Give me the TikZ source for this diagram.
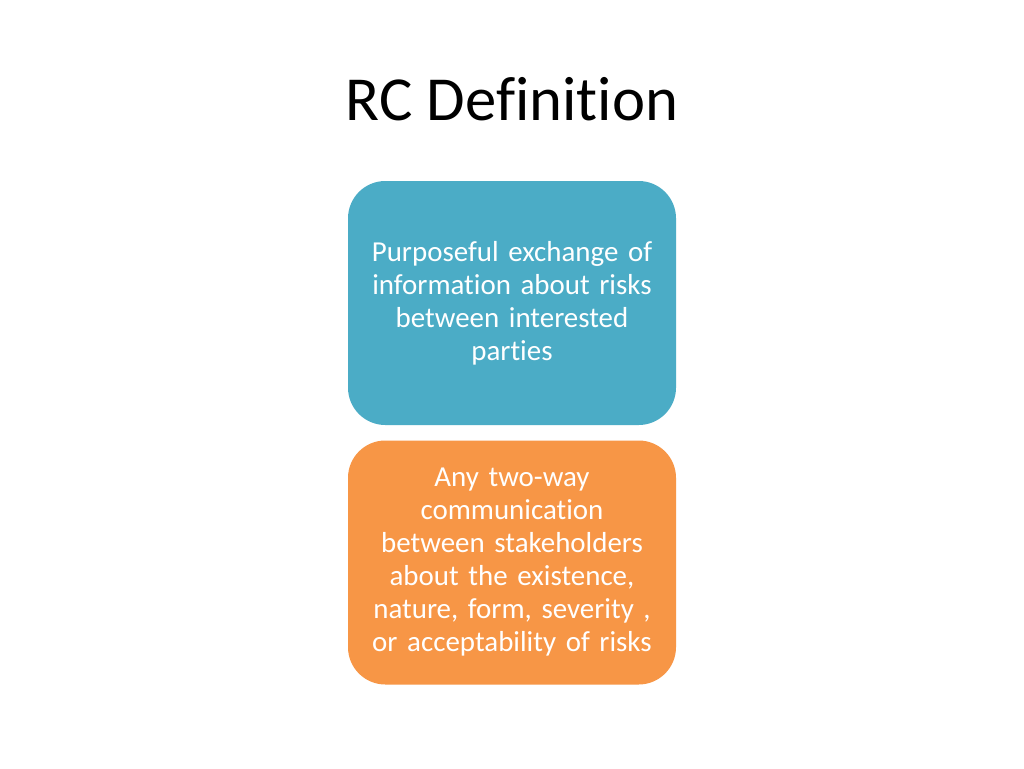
\documentclass[tikz,border=0pt]{standalone}
\usepackage{fontspec}
\setmainfont[Ligatures=NoCommon]{Carlito}
\definecolor{boxblue}{HTML}{4BACC6}
\definecolor{boxorange}{HTML}{F79646}
\begin{document}
\begin{tikzpicture}[x=0.75pt,y=-0.75pt,
  defbox/.style={rounded corners=28pt, minimum width=246pt, minimum height=183pt,
    text width=240pt, align=center, text=white, inner sep=0pt,
    font=\fontsize{21.7}{24.75}\selectfont}]
\fill[white] (0,0) rectangle (1024,768);
\useasboundingbox (0,0) rectangle (1024,768);
\node (title) at (512,99) {\fontsize{47}{56}\selectfont RC Definition};
\node[defbox, fill=boxblue] (blue) at (512,303)
  {Purposeful exchange of\\information about risks\\between interested\\parties};
\node[defbox, fill=boxorange] (orange) at (512,562.5)
  {Any two-way\\communication\\between stakeholders\\about the existence,\\nature, form, severity ,\\or acceptability of risks};
\end{tikzpicture}
\end{document}
